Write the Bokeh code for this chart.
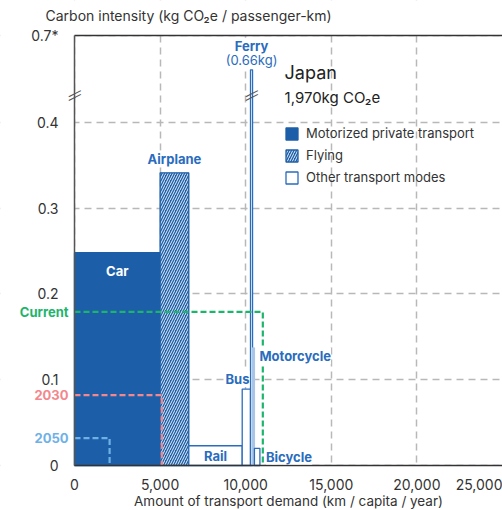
from bokeh.plotting import figure
from bokeh.models import (Range1d, FixedTicker, NumeralTickFormatter, Label,
                          Legend, LegendItem, ColumnDataSource, BoxAnnotation)
from bokeh.embed import file_html
from bokeh.resources import INLINE

# ---------------- data ----------------
modes = ["Car", "Airplane", "Rail", "Bus", "Ferry", "Motorcycle", "Bicycle"]
demand = [5000, 1676, 3120, 484, 120, 110, 320]          # km / capita / year
intensity = [0.248, 0.341, 0.023, 0.089, 0.66, 0.137, 0.020]  # kg CO2e / pkm
group = ["Motorized private transport", "Flying", "Other transport modes",
         "Other transport modes", "Other transport modes",
         "Motorized private transport", "Other transport modes"]

target_names = ["Current", "2030", "2050"]
target_demand = [11000, 5100, 2050]
target_intensity = [0.179, 0.082, 0.032]

x_ticks = [0, 5000, 10000, 15000, 20000, 25000]
y_ticks_real = [0, 0.1, 0.2, 0.3, 0.4, 0.7]
y_tick_labels = ["0", "0.1", "0.2", "0.3", "0.4", "0.7*"]

country = "Japan"
total_text = "1,970kg CO\u2082e"

# ---------------- axis break ----------------
BREAK_LOW = 0.432     # where the scale is cut (display value)
GAP = 0.199           # real range removed by the break


def disp(v):
    return v if v <= BREAK_LOW else v - GAP


Y_TOP = disp(0.7)
BREAK_DISP = BREAK_LOW

BLUE = "#1c5fa8"
LABEL_BLUE = "#2a6cbd"
LIGHT = "#a9c6e7"
GREEN = "#1db46c"
PINK = "#f3878d"
SKY = "#6fb1e6"
GRID = "#b8b8b8"
TEXT = "#333333"
FONT = "Inter"

# ---------------- bar geometry from data ----------------
lefts, rights = [], []
acc = 0
for d in demand:
    lefts.append(acc)
    acc += d
    rights.append(acc)
tops = [disp(v) for v in intensity]

fills, lines, hatches = [], [], []
for m, g in zip(modes, group):
    if g == "Flying":
        fills.append(BLUE); lines.append(BLUE); hatches.append("/")
    elif g == "Motorized private transport":
        if m == "Motorcycle":
            fills.append(LIGHT); lines.append(LIGHT)
        else:
            fills.append(BLUE); lines.append(BLUE)
        hatches.append(" ")
    else:
        fills.append("white"); lines.append(LABEL_BLUE); hatches.append(" ")

src = ColumnDataSource(dict(left=lefts, right=rights, top=tops,
                            bottom=[0] * len(modes), fill=fills, line=lines,
                            hatch=hatches, mode=modes))

# ---------------- canvas layout (frame = whole canvas) ----------------
W, H = 502, 510
AX_LEFT, AX_RIGHT, AX_TOP, AX_BOTTOM = 74, 502, 35, 465   # plot box in px
PX_X = (AX_RIGHT - AX_LEFT) / x_ticks[-1]
PX_Y = (AX_BOTTOM - AX_TOP) / Y_TOP
X_START = -AX_LEFT / PX_X
Y_START = -(H - AX_BOTTOM) / PX_Y
Y_END = Y_TOP + AX_TOP / PX_Y

p = figure(width=W, height=H, output_backend="svg", toolbar_location=None,
           title=None, x_range=Range1d(X_START, x_ticks[-1]),
           y_range=Range1d(Y_START, Y_END),
           min_border_left=0, min_border_right=0, min_border_top=0,
           min_border_bottom=0)
p.outline_line_color = None
p.background_fill_color = "white"
p.border_fill_color = "white"

# grids
for g in (p.xgrid, p.ygrid):
    g.grid_line_color = GRID
    g.grid_line_dash = "7 5"
    g.grid_line_width = 1.5

# keep the grid inside the plot box
for kw in (dict(right=0), dict(top=0), dict(bottom=Y_TOP)):
    p.add_layout(BoxAnnotation(fill_color="white", fill_alpha=1,
                               line_color=None, level="underlay", **kw))

# axes
p.xaxis.ticker = FixedTicker(ticks=x_ticks)
p.xaxis.formatter = NumeralTickFormatter(format="0,0")
p.xaxis.bounds = (0, x_ticks[-1])
p.xaxis.fixed_location = 0
p.xaxis.axis_label = "Amount of transport demand (km / capita / year)"
p.xaxis.axis_label_text_font = FONT
p.xaxis.axis_label_text_font_style = "normal"
p.xaxis.axis_label_text_font_size = "13.5px"
p.xaxis.axis_label_text_color = TEXT
p.xaxis.axis_label_standoff = 0
yt = [disp(v) for v in y_ticks_real]
p.yaxis.ticker = FixedTicker(ticks=yt)
p.yaxis.major_label_overrides = {t: l for t, l in zip(yt, y_tick_labels)}
p.yaxis.fixed_location = 0
p.yaxis.bounds = (0, Y_TOP)
for ax in (p.xaxis, p.yaxis):
    ax.major_tick_line_color = None
    ax.minor_tick_line_color = None
    ax.major_label_text_font = FONT
    ax.major_label_text_font_size = "14px"
    ax.major_label_text_color = TEXT
    ax.axis_line_width = 1.5
p.xaxis.axis_line_color = "#333333"
p.yaxis.axis_line_color = "#555555"
p.xaxis.major_label_standoff = 7
p.yaxis.major_label_standoff = 10

# title
p.add_layout(Label(x=0, y=Y_TOP, x_offset=-29, y_offset=20,
                   text="Carbon intensity (kg CO\u2082e / passenger-km)",
                   text_baseline="middle", text_font=FONT, text_font_size="14px",
                   text_color=TEXT))

# top frame line
p.segment(x0=[0], x1=[x_ticks[-1]], y0=[Y_TOP], y1=[Y_TOP],
          line_color="#333333", line_width=1.5)

# bars
bars = p.quad(left="left", right="right", top="top", bottom="bottom", source=src,
              fill_color="fill", line_color="line", line_width=1.3,
              hatch_pattern="hatch", hatch_color="white", hatch_scale=5,
              hatch_weight=1, hatch_alpha=0.9)

# target dashed outlines
tcolors = [GREEN, PINK, SKY]
for name, d, v, c in zip(target_names, target_demand, target_intensity, tcolors):
    p.line([0, d, d], [v, v, 0], line_color=c, line_width=2.2, line_dash="6 3")
    p.add_layout(Label(x=0, y=v, x_offset=-6, text=name, text_align="right",
                       text_baseline="middle", text_font=FONT,
                       text_font_style="bold", text_font_size="13px",
                       text_color=c))

# bar labels
cx = [(l + r) / 2 for l, r in zip(lefts, rights)]


def bar_label(text, x, y, xo=0, yo=0, align="center", color=LABEL_BLUE,
              style="bold", bg="white"):
    p.add_layout(Label(x=x, y=y, x_offset=xo, y_offset=yo, text=text,
                       text_align=align, text_baseline="middle", text_font=FONT,
                       text_font_style=style, text_font_size="13px",
                       text_color=color, background_fill_color=bg))


bar_label("Car", cx[0], tops[0], yo=-18, color="white", bg=None)
bar_label("Airplane", cx[1], tops[1], yo=14)
bar_label("Rail", cx[2], 0, yo=10, bg=None)
bar_label("Bus", rights[3], tops[3], xo=-1, yo=10, align="right")
bar_label("(0.66kg)", cx[4], tops[4], yo=10, style="normal")
bar_label("Ferry", cx[4], tops[4], yo=24)
bar_label("Motorcycle", rights[5], tops[5], xo=5, yo=-8, align="left")
bar_label("Bicycle", rights[6], 0, xo=6, yo=9, align="left")

# break marks
for bx in (0, cx[4]):
    for off in (-1.8, 1.8):
        p.add_layout(Label(x=bx, y=BREAK_DISP, y_offset=off, text="\u2014",
                           text_align="center", text_baseline="middle",
                           angle=0.47, text_font="DejaVu Sans",
                           text_font_size="15px", text_color="#555555"))

# annotation
p.add_layout(Label(x=12270, y=Y_TOP, y_offset=-37, text=country,
                   text_baseline="alphabetic", text_font=FONT,
                   text_font_size="18px", text_color="#222222"))
p.add_layout(Label(x=12270, y=Y_TOP, y_offset=-62, text=total_text,
                   text_baseline="alphabetic", text_font=FONT,
                   text_font_size="15px", text_color="#222222"))

# legend (location = offset of its bottom-left corner from the canvas bottom-left)
legend = Legend(items=[
    LegendItem(label="Motorized private transport", renderers=[bars], index=0),
    LegendItem(label="Flying", renderers=[bars], index=1),
    LegendItem(label="Other transport modes", renderers=[bars], index=2),
], location=(284, H - 185), padding=0, margin=0, spacing=6, glyph_width=15,
    glyph_height=15, label_height=15, label_standoff=7,
    label_text_font=FONT, label_text_font_size="13px", label_text_color=TEXT,
    border_line_color=None, background_fill_alpha=0)
p.add_layout(legend)

open("out.html", "w").write(file_html(p, INLINE))
